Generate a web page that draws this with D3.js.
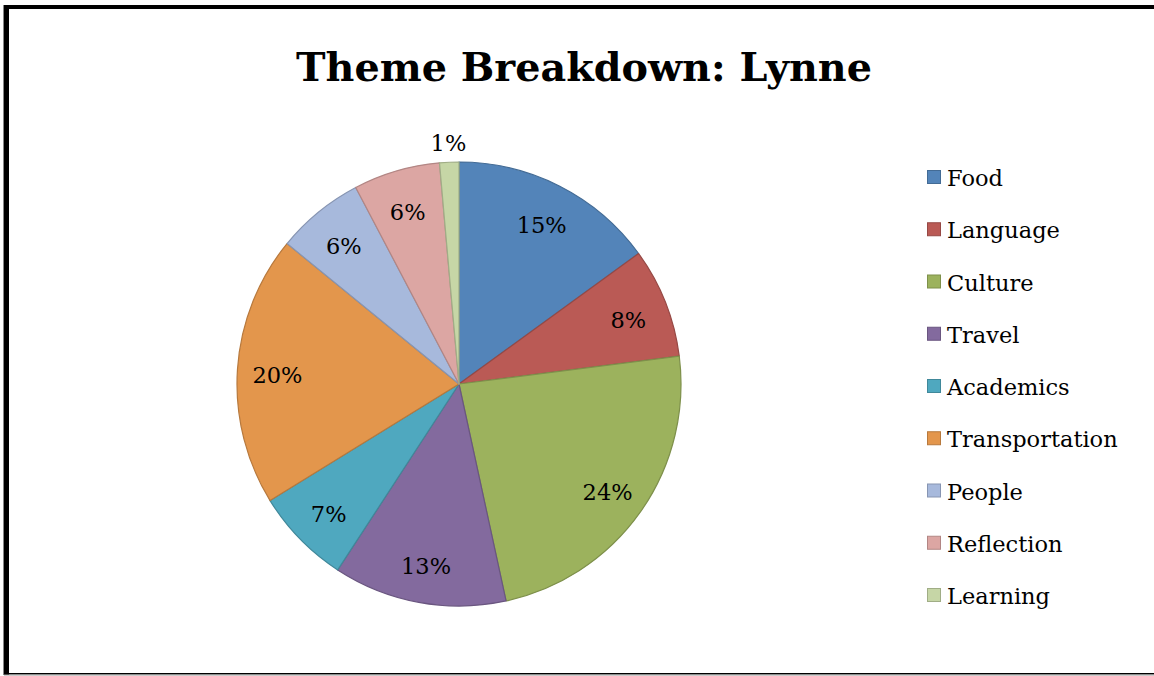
<!DOCTYPE html>
<html><head><meta charset="utf-8">
<script src="https://cdn.jsdelivr.net/npm/d3@7"></script>
<style>html,body{margin:0;padding:0;background:#fff;overflow:hidden}</style>
</head><body>
<svg id="c" width="1154" height="676"></svg>
<script>
const categories = ["Food","Language","Culture","Travel","Academics","Transportation","People","Reflection","Learning"];
const values = [15.0, 8.0, 23.6, 12.6, 7.0, 19.7, 6.4, 6.3, 1.4];
const colors = ["#5384B9","#BA5A55","#9CB25D","#836A9E","#4FA8BF","#E3964C","#A7B9DC","#DCA6A3","#C6D6A6"];
const title = "Theme Breakdown: Lynne";

const svg = d3.select("#c");
const font = "'DejaVu Serif', 'Liberation Serif', serif";

// frame
svg.append("rect").attr("x",3).attr("y",5).attr("width",1160).attr("height",669).attr("fill","#fff");
svg.append("rect").attr("x",4).attr("y",5).attr("width",1150).attr("height",4).attr("fill","#000");
svg.append("rect").attr("x",4).attr("y",5).attr("width",5).attr("height",670).attr("fill","#000");
svg.append("rect").attr("x",3).attr("y",5).attr("width",1).attr("height",670).attr("fill","#888");
svg.append("rect").attr("x",4).attr("y",673).attr("width",1150).attr("height",1.5).attr("fill","#000");
svg.append("rect").attr("x",4).attr("y",674.5).attr("width",1150).attr("height",1).attr("fill","#999");

// title
const t = svg.append("text").attr("x",584).attr("y",81).attr("text-anchor","middle")
  .attr("font-family",font).attr("font-weight","bold").attr("font-size",44).attr("fill","#000").text(title);
const tw = t.node().getComputedTextLength();
t.attr("font-size", 44*576/tw);

// pie
const cx = 459, cy = 384, r = 222;
const pie = d3.pie().sort(null).value(d=>d)(values);
const arc = d3.arc().innerRadius(0).outerRadius(r);
const g = svg.append("g").attr("transform",`translate(${cx},${cy})`);
g.selectAll("path").data(pie).join("path")
  .attr("d",arc)
  .attr("fill",(d,i)=>colors[i])
  .attr("stroke",(d,i)=>d3.color(colors[i]).darker(0.6))
  .attr("stroke-width",1.2)
  .attr("stroke-linejoin","round");

const labelArc = d3.arc().innerRadius(182).outerRadius(182);
const outArc = d3.arc().innerRadius(241).outerRadius(241);
g.selectAll("text.lbl").data(pie).join("text").attr("class","lbl")
  .attr("transform",(d,i)=>{
    const c = (values[i] < 3 ? outArc : labelArc).centroid(d);
    return `translate(${c[0]},${c[1] + (values[i] < 3 ? 0 : 3)})`;
  })
  .attr("text-anchor","middle").attr("dy","0.36em")
  .attr("font-family",font).attr("font-size",22.5).attr("fill","#000")
  .text(d=>Math.round(d.value)+"%");

// legend
const ly = d3.scalePoint().domain(categories).range([178,596]);
const lg = svg.append("g");
const items = lg.selectAll("g").data(categories).join("g")
  .attr("transform",d=>`translate(927,${ly(d)})`);
items.append("rect").attr("x",0.5).attr("y",-7.5).attr("width",13).attr("height",13)
  .attr("fill",(d,i)=>colors[i]).attr("stroke",(d,i)=>d3.color(colors[i]).darker(0.6)).attr("stroke-width",1);
items.append("text").attr("x",20).attr("y",0).attr("dy","0.36em")
  .attr("font-family",font).attr("font-size",22.5).attr("fill","#000").text(d=>d);
</script>
</body></html>
